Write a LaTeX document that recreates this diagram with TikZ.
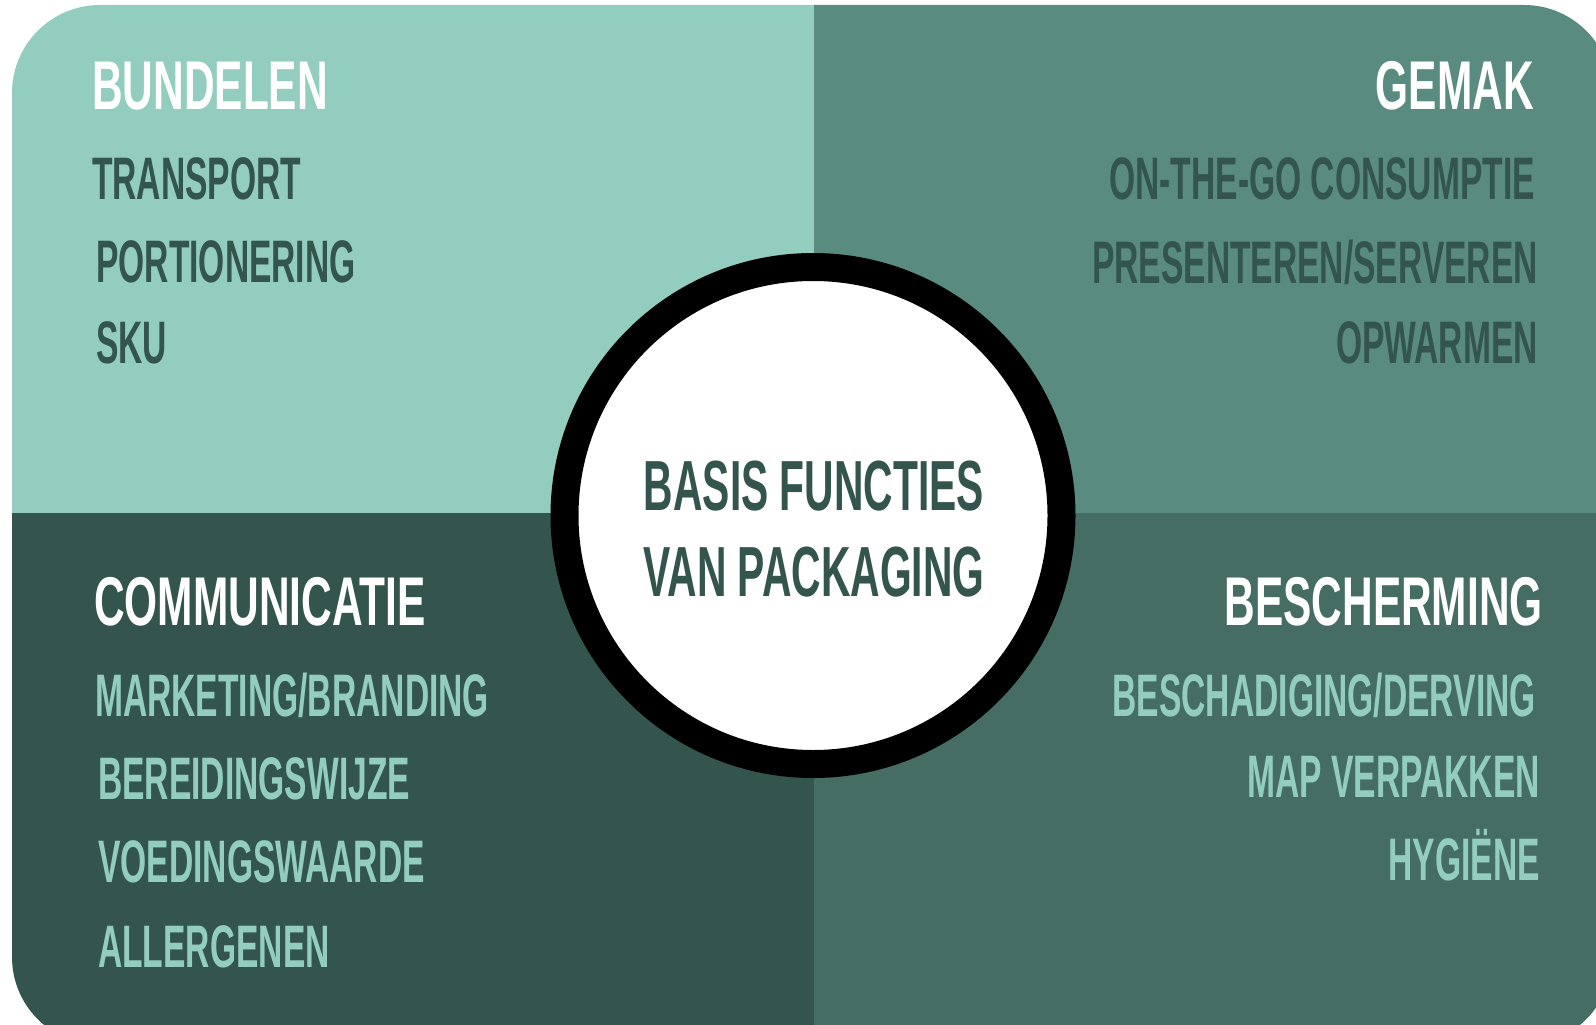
\documentclass[tikz,border=0pt]{standalone}
\usepackage{fontspec}
\newfontfamily\bebas[FakeStretch=0.56]{Liberation Sans}
\newfontfamily\bebashead[FakeStretch=0.615]{Liberation Sans}
\newfontfamily\bebastitle[FakeStretch=0.575]{Liberation Sans}
\definecolor{cTL}{HTML}{93CDBF}
\definecolor{cTR}{HTML}{5A8B80}
\definecolor{cBL}{HTML}{33554D}
\definecolor{cBR}{HTML}{456D63}
\definecolor{txtdark}{HTML}{33554D}
\definecolor{txtlight}{HTML}{93CDBF}
\tikzset{
  lbl/.style={inner sep=0pt, font=\bebas\bfseries\fontsize{60}{60}\selectfont},
  head/.style={lbl, text=white, font=\bebashead\bfseries\fontsize{69}{69}\selectfont},
  itemdark/.style={lbl, text=txtdark},
  itemlight/.style={lbl, text=txtlight},
  L/.style={anchor=west},
  R/.style={anchor=east},
}
\begin{document}
\begin{tikzpicture}[x=1pt,y=-1pt]
\useasboundingbox (0,0) rectangle (1596,1025);
\fill[white] (0,0) rectangle (1596,1025);
\begin{scope}
  \clip[rounded corners=88pt] (12,5) rectangle (1612,1045);
  \fill[cTL] (0,0) rectangle (814,513);
  \fill[cTR] (814,0) rectangle (1620,513);
  \fill[cBL] (0,513) rectangle (814,1050);
  \fill[cBR] (814,513) rectangle (1620,1050);
\end{scope}
\node[circle, fill=white, draw=black, line width=28pt, minimum size=497pt, inner sep=0pt] (center) at (813,515.5) {};
\node[lbl, text=txtdark, align=center, font=\bebastitle\bfseries\fontsize{71}{86}\selectfont] (title) at (814,529) {BASIS FUNCTIES\\VAN PACKAGING};
% top left
\node[head, L] (bundelen) at (92,86) {BUNDELEN};
\node[itemdark, L] (transport) at (92,179) {TRANSPORT};
\node[itemdark, L] (portionering) at (96,262) {PORTIONERING};
\node[itemdark, L] (sku) at (96,343) {SKU};
% top right
\node[head, R] (gemak) at (1534,86) {GEMAK};
\node[itemdark, R] (otg) at (1535,179) {ON-THE-GO CONSUMPTIE};
\node[itemdark, R] (present) at (1538,262) {PRESENTEREN/SERVEREN};
\node[itemdark, R] (opwarmen) at (1538,343) {OPWARMEN};
% bottom left
\node[head, L] (comm) at (94,602) {COMMUNICATIE};
\node[itemlight, L] (marketing) at (95,695) {MARKETING/BRANDING};
\node[itemlight, L] (bereiding) at (98,779) {BEREIDINGSWIJZE};
\node[itemlight, L] (voeding) at (98,862) {VOEDINGSWAARDE};
\node[itemlight, L] (allergenen) at (98,947) {ALLERGENEN};
% bottom right
\node[head, R] (bescherming) at (1543,602) {BESCHERMING};
\node[itemlight, R] (beschadiging) at (1536,695) {BESCHADIGING/DERVING};
\node[itemlight, R] (map) at (1540,777) {MAP VERPAKKEN};
\node[itemlight, R] (hygiene) at (1540,855) {HYGIËNE};
\end{tikzpicture}
\end{document}
